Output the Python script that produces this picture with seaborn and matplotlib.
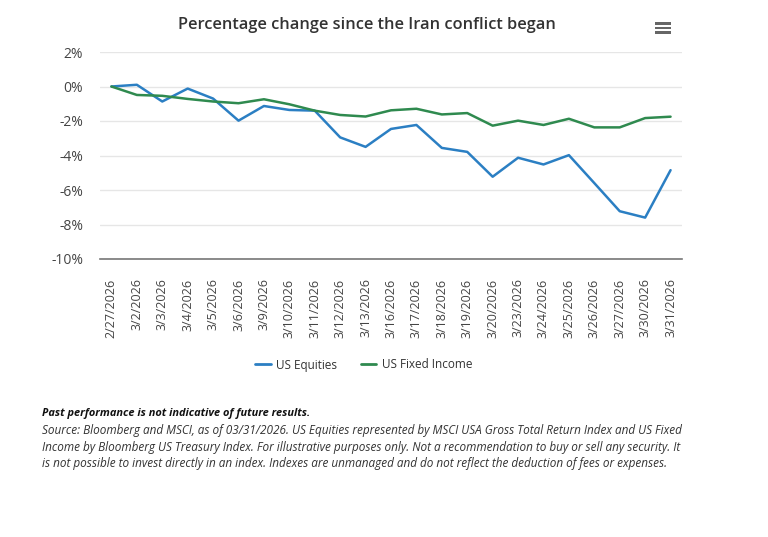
import pandas as pd
import matplotlib.pyplot as plt
import seaborn as sns
from matplotlib.patches import Rectangle
from matplotlib.ticker import FuncFormatter

sns.set_style("white")
plt.rcParams['font.family'] = ['Open Sans', 'DejaVu Sans']

dates = ["2/27/2026", "3/2/2026", "3/3/2026", "3/4/2026", "3/5/2026", "3/6/2026",
         "3/9/2026", "3/10/2026", "3/11/2026", "3/12/2026", "3/13/2026", "3/16/2026",
         "3/17/2026", "3/18/2026", "3/19/2026", "3/20/2026", "3/23/2026", "3/24/2026",
         "3/25/2026", "3/26/2026", "3/27/2026", "3/30/2026", "3/31/2026"]
equities = [0.0, 0.1, -0.87, -0.12, -0.7, -1.98, -1.13, -1.36, -1.4, -2.95, -3.5, -2.46,
            -2.23, -3.56, -3.79, -5.23, -4.13, -4.52, -3.98, -5.6, -7.23, -7.6, -4.85]
fixed_income = [0.0, -0.49, -0.54, -0.72, -0.87, -0.97, -0.74, -1.03, -1.4, -1.65, -1.74, -1.38,
                -1.29, -1.62, -1.54, -2.27, -1.98, -2.23, -1.87, -2.37, -2.37, -1.83, -1.75]

df = pd.DataFrame({"date": dates * 2,
                   "pos": list(range(len(dates))) * 2,
                   "value": equities + fixed_income,
                   "series": ["US Equities"] * len(dates) + ["US Fixed Income"] * len(dates)})

fig = plt.figure(figsize=(7.68, 5.37), dpi=100)
ax = fig.add_axes([100 / 768, 1 - 259 / 537, 582 / 768, 207 / 537])

sns.lineplot(data=df, x="pos", y="value", hue="series",
             palette=["#2b7fc3", "#2f8a4f"], linewidth=1.8, ax=ax, legend=False)

ax.set_ylim(-10, 2)
ax.set_yticks(range(-10, 3, 2))
ax.yaxis.set_major_formatter(FuncFormatter(lambda v, p: f"{v:.0f}%"))
ax.set_xlim(-0.45, len(dates) - 0.55)
ax.set_xticks(range(len(dates)))
ax.set_xticklabels(dates, rotation=90, fontsize=9, color="#444444")
ax.tick_params(axis="y", labelsize=10, labelcolor="#444444", length=0, pad=12)
ax.tick_params(axis="x", length=0, pad=14)
ax.set_xlabel("")
ax.set_ylabel("")
ax.grid(axis="y", color="#e6e6e6", linewidth=1)
ax.grid(axis="x", visible=False)
for s in ["top", "right", "left"]:
    ax.spines[s].set_visible(False)
ax.spines["bottom"].set_color("#777777")
ax.spines["bottom"].set_linewidth(1.2)

fig.text(367 / 768, 1 - 25 / 537, "Percentage change since the Iran conflict began",
         ha="center", va="center", fontsize=11.8, fontweight="semibold", color="#333333")

# menu icon
for dy in (23.5, 28, 32.5):
    fig.add_artist(Rectangle((655 / 768, 1 - (dy + 1.2) / 537), 16 / 768, 2.4 / 537,
                             transform=fig.transFigure, color="#666666", lw=0))

# legend
handles = [plt.Line2D([], [], color="#2b7fc3", lw=2),
           plt.Line2D([], [], color="#2f8a4f", lw=2)]
fig.legend(handles, ["US Equities", "US Fixed Income"], loc="center",
           bbox_to_anchor=(364 / 768, 1 - 365 / 537), ncol=2, frameon=False,
           fontsize=8.5, handlelength=1.3, handletextpad=0.5, columnspacing=2.0,
           labelcolor="#333333")

fig.text(42 / 768, 1 - 413.5 / 537, "Past performance is not indicative of future results.",
         ha="left", va="center", fontsize=7.9, fontweight="bold", style="italic", color="#111111")
notes = ["Source: Bloomberg and MSCI, as of 03/31/2026. US Equities represented by MSCI USA Gross Total Return Index and US Fixed",
         "Income by Bloomberg US Treasury Index. For illustrative purposes only. Not a recommendation to buy or sell any security. It",
         "is not possible to invest directly in an index. Indexes are unmanaged and do not reflect the deduction of fees or expenses."]
for i, line in enumerate(notes):
    fig.text(42 / 768, 1 - (430.5 + 16.6 * i) / 537, line, ha="left", va="center",
             fontsize=8.5, style="italic", color="#333333")

fig.savefig("out.png", dpi=100, facecolor="white")
